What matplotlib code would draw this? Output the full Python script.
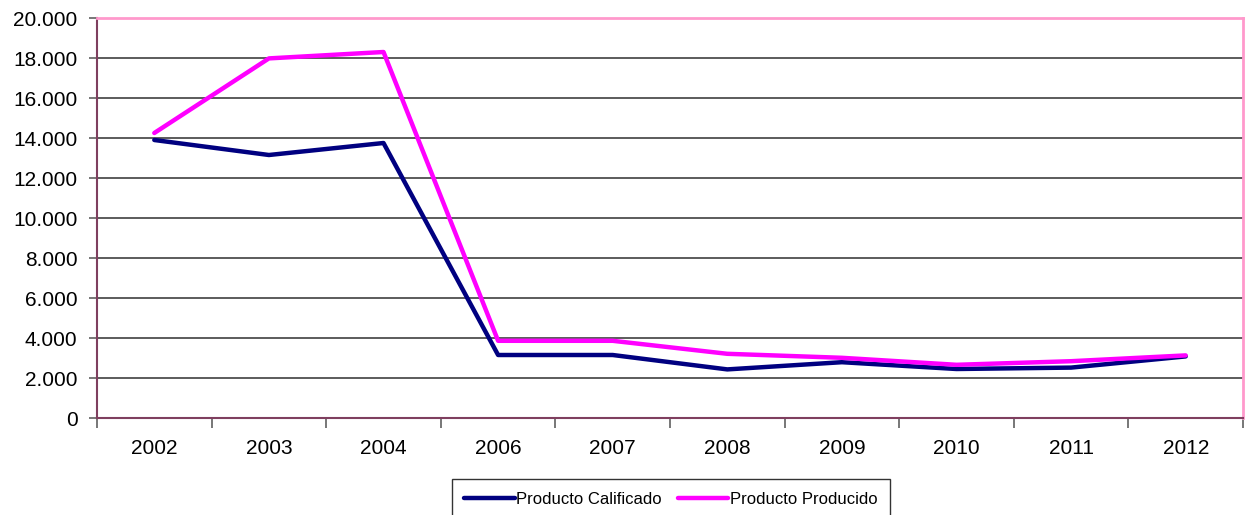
import matplotlib
matplotlib.use("Agg")
import matplotlib.pyplot as plt
from matplotlib.ticker import FixedLocator, FuncFormatter

years = ["2002", "2003", "2004", "2006", "2007", "2008", "2009", "2010", "2011", "2012"]
calificado = [13900, 13150, 13750, 3150, 3150, 2430, 2790, 2450, 2520, 3080]
producido = [14250, 17980, 18300, 3860, 3860, 3210, 3010, 2660, 2840, 3130]
y_ticks = [0, 2000, 4000, 6000, 8000, 10000, 12000, 14000, 16000, 18000, 20000]

plt.rcParams['font.family'] = ['Liberation Sans', 'DejaVu Sans']

W, H = 1245, 515
fig = plt.figure(figsize=(W / 100, H / 100), dpi=100)
ax = fig.add_axes([97 / W, (H - 418) / H, (1243 - 97) / W, 400 / H])

x = list(range(len(years)))
ax.plot(x, calificado, color="#000080", lw=3.2, label="Producto Calificado", solid_capstyle="round", zorder=3)
ax.plot(x, producido, color="#FF00FF", lw=3.2, label="Producto Producido", solid_capstyle="round", zorder=3)

ax.set_xlim(-0.5, len(years) - 0.5)
ax.set_ylim(0, 20000)
ax.set_yticks(y_ticks)
ax.yaxis.set_major_formatter(FuncFormatter(lambda v, p: f"{int(v):,}".replace(",", ".")))
ax.set_xticks(x)
ax.set_xticklabels(years)
ax.xaxis.set_minor_locator(FixedLocator([i - 0.5 for i in range(len(years) + 1)]))
ax.tick_params(axis="x", which="major", length=0, pad=15, labelsize=15)
ax.tick_params(axis="x", which="minor", length=7, width=1.2, color="#606060", direction="out")
ax.tick_params(axis="y", which="major", length=6, width=1.2, color="#606060", direction="out", labelsize=15, pad=8)

for v in y_ticks[1:-1]:
    ax.axhline(v, color="#404040", lw=1.2, zorder=1)

for s in ["left", "bottom"]:
    ax.spines[s].set_color("#7F3F5F")
    ax.spines[s].set_linewidth(1.5)
for s in ["top", "right"]:
    ax.spines[s].set_color("#FF99CC")
    ax.spines[s].set_linewidth(2)

leg = fig.legend(loc="upper left", bbox_to_anchor=(452 / W, (H - 479) / H), ncol=2,
                 frameon=True, fancybox=False, edgecolor="black", fontsize=12,
                 handlelength=3.0, handletextpad=0.1, columnspacing=1.0,
                 borderpad=0.75, borderaxespad=0)
leg.get_frame().set_linewidth(1.0)

fig.savefig("out.png", dpi=100)
